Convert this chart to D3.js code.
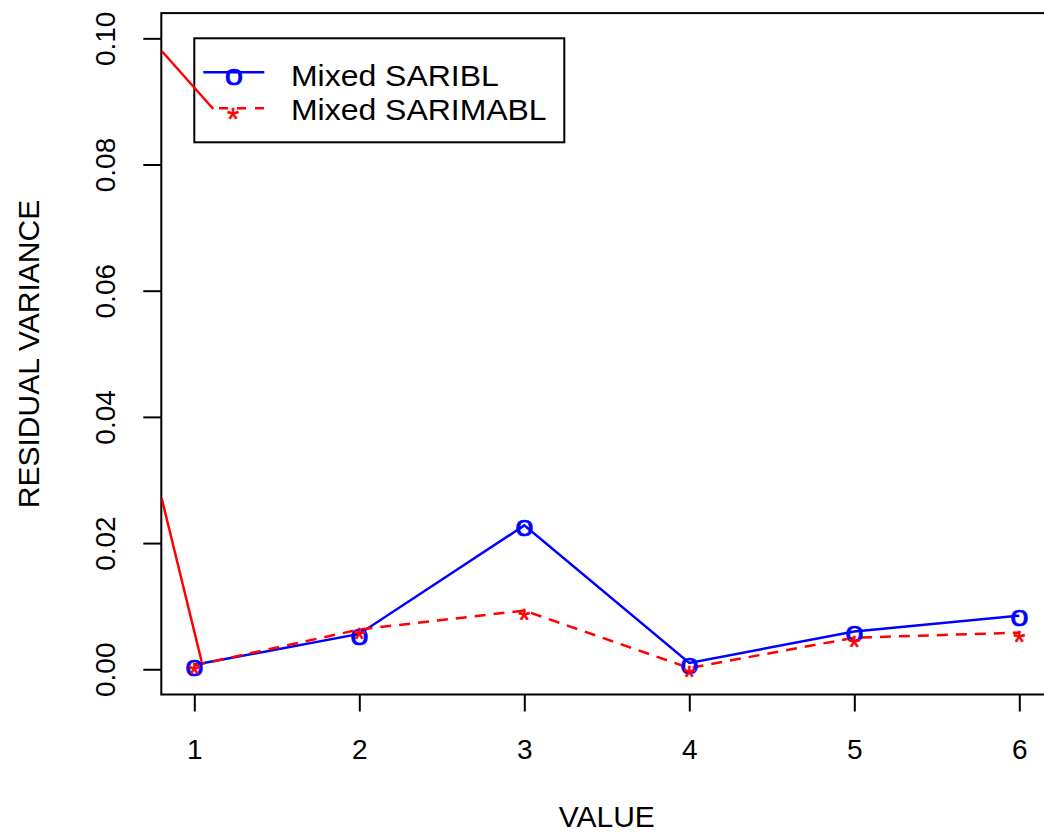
<!DOCTYPE html>
<html>
<head>
<meta charset="utf-8">
<script src="https://cdn.jsdelivr.net/npm/d3@7/dist/d3.min.js"></script>
<style>
  html, body { margin: 0; padding: 0; background: #fff; }
  svg { display: block; font-family: "Liberation Sans", Arial, Helvetica, sans-serif; }
</style>
</head>
<body>
<svg id="chart" width="1044" height="835"></svg>
<script>
// Lag values on the x axis
const lags = [1, 2, 3, 4, 5, 6];
// Residual variance of each model
const sariblVar = [0.0007, 0.0056, 0.0228, 0.0010, 0.0060, 0.0085];
const sarimablVar = [0.0006, 0.0063, 0.0093, 0.0002, 0.0050, 0.0058];
// Axis ticks
const xTicks = [1, 2, 3, 4, 5, 6];
const yTicks = [0, 0.02, 0.04, 0.06, 0.08, 0.10];
const yTickLabels = ["0.00", "0.02", "0.04", "0.06", "0.08", "0.10"];
// Red solid lead-in segments entering from the left edge
const leadInA = [[0.8024, 0.0980], [1.1152, 0.0888]];
const leadInB = [[0.8024, 0.0271], [1.0448, 0.0012]];
// Legend entries
const legendLabels = ["Mixed SARIBL", "Mixed SARIMABL"];

const svg = d3.select("#chart");
const plot = { left: 161.3, right: 1052.3, top: 13.1, bottom: 694.5 };

const x = d3.scaleLinear().domain([0.8, 6.2]).range([plot.left, plot.right]);
const y = d3.scaleLinear().domain([-0.004, 0.104]).range([plot.bottom, plot.top]);

svg.append("defs").append("clipPath").attr("id", "plotClip")
  .append("rect")
  .attr("x", plot.left).attr("y", plot.top)
  .attr("width", plot.right - plot.left).attr("height", plot.bottom - plot.top);

const blue = "#0000ff";
const red = "#ff0000";
const lw = 2.5;
const dash = "11,8";

// Series lines
const line = d3.line().x(d => x(d[0])).y(d => y(d[1]));
const blueData = lags.map((l, i) => [l, sariblVar[i]]);
const redData = lags.map((l, i) => [l, sarimablVar[i]]);

const g = svg.append("g").attr("clip-path", "url(#plotClip)");
g.append("path").datum(blueData).attr("d", line)
  .attr("fill", "none").attr("stroke", blue).attr("stroke-width", lw);
g.append("path").datum(redData).attr("d", line)
  .attr("fill", "none").attr("stroke", red).attr("stroke-width", lw)
  .attr("stroke-dasharray", dash);

// Point glyphs
g.selectAll("text.o").data(blueData).enter().append("text")
  .attr("class", "o")
  .attr("transform", d => `translate(${x(d[0])},${y(d[1]) + 10.8}) scale(1.1,1)`)
  .attr("text-anchor", "middle").attr("font-size", 30).attr("fill", blue)
  .attr("stroke", blue).attr("stroke-width", 0.7)
  .text("o");
g.selectAll("text.s").data(redData).enter().append("text")
  .attr("class", "s")
  .attr("x", d => x(d[0])).attr("y", d => y(d[1]) + 20)
  .attr("text-anchor", "middle").attr("font-size", 31).attr("fill", red)
  .attr("stroke", red).attr("stroke-width", 0.6)
  .text("*");

// Plot box
svg.append("rect")
  .attr("x", plot.left).attr("y", plot.top)
  .attr("width", plot.right - plot.left).attr("height", plot.bottom - plot.top)
  .attr("fill", "none").attr("stroke", "#000").attr("stroke-width", 2);

// Y axis
const yAxis = d3.axisLeft(y).tickValues(yTicks).tickSize(18)
  .tickFormat((d, i) => yTickLabels[i]);
const ya = svg.append("g").attr("transform", `translate(${plot.left},0)`).call(yAxis);
ya.select(".domain").remove();
ya.selectAll(".tick line").attr("stroke", "#000").attr("stroke-width", 2);
ya.selectAll(".tick text")
  .attr("x", 0).attr("y", -46).attr("dy", null)
  .attr("transform", "rotate(-90)")
  .attr("text-anchor", "middle")
  .attr("font-size", 28).attr("font-family", "Liberation Sans, Arial, sans-serif")
  .attr("fill", "#000");

// X axis
const xAxis = d3.axisBottom(x).tickValues(xTicks).tickSize(17).tickFormat(d3.format("d"));
const xa = svg.append("g").attr("transform", `translate(0,${plot.bottom})`).call(xAxis);
xa.select(".domain").remove();
xa.selectAll(".tick line").attr("stroke", "#000").attr("stroke-width", 2);
xa.selectAll(".tick text")
  .attr("y", 64).attr("dy", null)
  .attr("font-size", 28).attr("font-family", "Liberation Sans, Arial, sans-serif")
  .attr("fill", "#000");

// Axis titles
svg.append("text")
  .attr("x", (plot.left + plot.right) / 2).attr("y", 827)
  .attr("text-anchor", "middle").attr("font-size", 30).text("VALUE");
svg.append("text")
  .attr("transform", `translate(39,354) rotate(-90)`)
  .attr("text-anchor", "middle").attr("font-size", 30).text("RESIDUAL VARIANCE");

// Legend
const lg = svg.append("g");
lg.append("rect").attr("x", 194.3).attr("y", 38.3).attr("width", 370).attr("height", 104)
  .attr("fill", "#fff").attr("stroke", "#000").attr("stroke-width", 2);
lg.append("line").attr("x1", 203.3).attr("x2", 264.3).attr("y1", 72.3).attr("y2", 72.3)
  .attr("stroke", blue).attr("stroke-width", lw);
lg.append("text").attr("transform", "translate(234,84.5) scale(1.1,1)")
  .attr("text-anchor", "middle").attr("font-size", 30).attr("fill", blue)
  .attr("stroke", blue).attr("stroke-width", 0.7).text("o");
lg.append("line").attr("x1", 219).attr("x2", 264.3).attr("y1", 108.3).attr("y2", 108.3)
  .attr("stroke", red).attr("stroke-width", lw).attr("stroke-dasharray", "9,9");
lg.append("text").attr("x", 233).attr("y", 130)
  .attr("text-anchor", "middle").attr("font-size", 31).attr("fill", red)
  .attr("stroke", red).attr("stroke-width", 0.6).text("*");
lg.selectAll("text.lab").data(legendLabels).enter().append("text")
  .attr("class", "lab")
  .attr("transform", (d, i) => `translate(291,${85.7 + i * 34.3}) scale(1.065,1)`)
  .attr("font-size", 30).attr("fill", "#000").text(d => d);

// Lead-in segments drawn over the legend
svg.append("g").attr("clip-path", "url(#plotClip)")
  .selectAll("path").data([leadInA, leadInB]).enter().append("path")
  .attr("d", line).attr("fill", "none").attr("stroke", red).attr("stroke-width", lw);
</script>
</body>
</html>
